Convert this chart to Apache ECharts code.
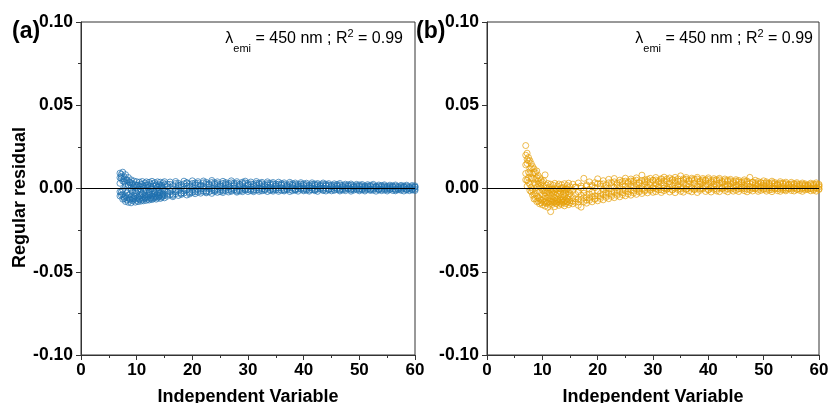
<!DOCTYPE html>
<html>
<head>
<meta charset="utf-8">
<script src="https://cdn.jsdelivr.net/npm/echarts@6/dist/echarts.min.js"></script>
<style>
html,body{margin:0;padding:0;background:#fff;}
#chart{width:830px;height:403px;}
</style>
</head>
<body>
<div id="chart"></div>
<script>
// Independent variable values (shared by both panels)
const xs = [7,7.25,7.5,7.75,8,8.25,8.5,8.75,9,9.25,9.5,9.75,10,10.25,10.5,10.75,11,11.25,11.5,11.75,
12,12.25,12.5,12.75,13,13.25,13.5,13.75,14,14.25,14.5,14.75,15,
15.5,16,16.5,17,17.5,18,18.5,19,19.5,20,20.5,21,21.5,22,22.5,23,23.5,24,24.5,25,25.5,26,26.5,27,27.5,
28,28.5,29,29.5,30,30.5,31,31.5,32,32.5,33,33.5,34,34.5,35,35.5,36,36.5,37,37.5,38,38.5,39,39.5,
40,40.5,41,41.5,42,42.5,43,43.5,44,44.5,45,45.5,46,46.5,47,47.5,48,48.5,49,49.5,50,50.5,51,51.5,
52,52.5,53,53.5,54,54.5,55,55.5,56,56.5,57,57.5,58,58.5,59,59.5,60];

// Panel (a) residuals: five overlapping layers of the scatter band (upper -> lower)
const aHi = [0.0092,0.0060,0.0098,0.0071,0.0083,0.0048,0.0066,0.0039,0.0052,0.0031,0.0045,0.0022,0.0041,0.0018,0.0038,0.0027,0.0042,0.0015,0.0033,0.0040,
0.0021,0.0037,0.0012,0.0043,0.0029,0.0035,0.0016,0.0040,0.0024,0.0038,0.0019,0.0034,0.0041,
0.0026,0.0039,0.0018,0.0042,0.0031,0.0022,0.0044,0.0035,0.0025,0.0046,
0.0033,0.0041,0.0021,0.0045,0.0037,0.0028,0.0048,0.0034,0.0040,0.0024,
0.0043,0.0036,0.0029,0.0046,0.0032,0.0041,0.0023,0.0038,0.0044,0.0030,
0.0039,0.0025,0.0042,0.0033,0.0037,0.0022,0.0040,0.0031,0.0036,0.0027,
0.0038,0.0030,0.0034,0.0021,0.0037,0.0029,0.0033,0.0024,0.0035,0.0028,
0.0032,0.0020,0.0034,0.0027,0.0030,0.0023,0.0033,0.0026,0.0029,0.0019,
0.0028,0.0024,0.0030,0.0018,0.0026,0.0022,0.0027,0.0017,0.0025,0.0021,
0.0024,0.0016,0.0023,0.0019,0.0025,0.0014,0.0021,0.0018,0.0022,0.0013,
0.0020,0.0016,0.0021,0.0012,0.0019,0.0015,0.0020,0.0011,0.0018,0.0016];
const aQ = [0.0065,0.0085,0.0045,0.0058,0.0030,0.0052,0.0016,0.0036,-0.0010,0.0025,0.0008,-0.0015,0.0020,-0.0004,0.0012,-0.0022,0.0024,0.0003,-0.0012,0.0019,
0.0006,-0.0018,0.0027,-0.0001,0.0015,-0.0020,0.0022,0.0008,-0.0006,0.0018,0.0010,-0.0003,0.0023,
0.0012,0.0025,-0.0005,0.0030,0.0020,0.0008,0.0028,0.0034,0.0012,0.0030,
0.0022,0.0030,0.0014,0.0034,0.0025,0.0010,0.0036,0.0026,0.0029,0.0015,
0.0031,0.0028,0.0018,0.0034,0.0024,0.0030,0.0014,0.0029,0.0033,0.0021,
0.0027,0.0016,0.0031,0.0025,0.0028,0.0012,0.0030,0.0021,0.0027,0.0018,
0.0026,0.0022,0.0025,0.0013,0.0027,0.0020,0.0024,0.0016,0.0026,0.0019,
0.0023,0.0012,0.0025,0.0019,0.0022,0.0015,0.0024,0.0018,0.0020,0.0012,
0.0019,0.0016,0.0021,0.0011,0.0018,0.0014,0.0019,0.0010,0.0017,0.0013,
0.0016,0.0010,0.0015,0.0012,0.0017,0.0008,0.0014,0.0011,0.0015,0.0007,
0.0013,0.0010,0.0014,0.0006,0.0012,0.0009,0.0013,0.0005,0.0011,0.0009];
const aMid = [0.0031,0.0072,-0.0008,0.0040,0.0012,-0.0026,0.0021,-0.0035,0.0004,-0.0019,-0.0042,0.0006,-0.0028,-0.0010,-0.0047,-0.0005,-0.0033,-0.0016,-0.0051,-0.0009,
-0.0038,-0.0022,-0.0002,-0.0044,-0.0013,-0.0031,-0.0006,-0.0039,-0.0018,-0.0027,0.0002,-0.0035,-0.0011,
-0.0022,0.0004,-0.0035,-0.0008,0.0012,-0.0027,-0.0003,0.0015,-0.0019,0.0008,
-0.0011,0.0019,-0.0004,0.0010,-0.0015,0.0022,0.0001,-0.0008,0.0017,0.0005,
-0.0006,0.0021,0.0009,-0.0002,0.0016,-0.0010,0.0024,0.0004,-0.0005,0.0018,
0.0008,-0.0007,0.0020,0.0002,0.0013,-0.0004,0.0022,0.0006,-0.0002,0.0015,
0.0003,0.0019,-0.0006,0.0011,0.0005,0.0017,-0.0003,0.0009,0.0014,0.0000,
0.0012,0.0004,0.0016,-0.0005,0.0008,0.0013,0.0001,0.0015,-0.0002,0.0010,
0.0005,0.0013,-0.0004,0.0009,0.0002,0.0012,-0.0003,0.0007,0.0011,-0.0001,
0.0008,0.0002,0.0010,-0.0004,0.0006,0.0009,-0.0002,0.0005,0.0008,0.0000,
0.0004,0.0009,-0.0003,0.0006,0.0002,0.0008,-0.0004,0.0005,0.0001,0.0007];
const aR = [-0.0020,-0.0040,-0.0035,-0.0060,-0.0045,-0.0055,-0.0040,-0.0068,-0.0050,-0.0062,-0.0058,-0.0048,-0.0060,-0.0052,-0.0066,-0.0042,-0.0055,-0.0061,-0.0038,-0.0057,
-0.0049,-0.0042,-0.0060,-0.0035,-0.0054,-0.0044,-0.0050,-0.0028,-0.0045,-0.0038,-0.0047,-0.0032,-0.0040,
-0.0034,-0.0018,-0.0042,-0.0020,-0.0012,-0.0030,-0.0015,-0.0008,-0.0026,-0.0010,
-0.0020,-0.0006,-0.0016,-0.0004,-0.0021,-0.0002,-0.0012,-0.0018,-0.0003,-0.0008,
-0.0015,0.0001,-0.0009,-0.0012,0.0002,-0.0016,-0.0004,-0.0010,0.0000,-0.0007,
-0.0003,-0.0012,0.0004,-0.0008,-0.0002,-0.0011,0.0005,-0.0006,-0.0009,0.0002,
-0.0008,0.0003,-0.0010,-0.0001,-0.0007,0.0004,-0.0009,-0.0003,0.0002,-0.0008,
-0.0002,-0.0009,0.0004,-0.0007,-0.0004,0.0002,-0.0008,0.0001,-0.0006,-0.0002,
-0.0006,0.0002,-0.0009,-0.0001,-0.0005,0.0003,-0.0008,-0.0002,0.0001,-0.0007,
-0.0003,-0.0008,0.0001,-0.0006,-0.0002,0.0000,-0.0009,-0.0004,-0.0001,-0.0007,
-0.0006,-0.0001,-0.0008,-0.0003,-0.0005,0.0000,-0.0009,-0.0002,-0.0006,-0.0004];
const aLo = [-0.0045,-0.0021,-0.0064,-0.0052,-0.0078,-0.0069,-0.0083,-0.0061,-0.0086,-0.0074,-0.0066,-0.0082,-0.0071,-0.0079,-0.0063,-0.0076,-0.0068,-0.0074,-0.0058,-0.0071,
-0.0064,-0.0069,-0.0055,-0.0066,-0.0061,-0.0052,-0.0064,-0.0057,-0.0049,-0.0060,-0.0053,-0.0046,-0.0056,
-0.0046,-0.0038,-0.0049,-0.0031,-0.0042,-0.0036,-0.0027,-0.0039,-0.0033,-0.0024,
-0.0031,-0.0022,-0.0028,-0.0017,-0.0026,-0.0020,-0.0029,-0.0013,-0.0023,-0.0019,
-0.0024,-0.0012,-0.0021,-0.0017,-0.0008,-0.0022,-0.0015,-0.0019,-0.0010,-0.0018,
-0.0013,-0.0019,-0.0009,-0.0017,-0.0014,-0.0006,-0.0018,-0.0012,-0.0016,-0.0008,
-0.0017,-0.0011,-0.0015,-0.0007,-0.0018,-0.0013,-0.0009,-0.0016,-0.0005,-0.0014,
-0.0010,-0.0016,-0.0007,-0.0013,-0.0017,-0.0004,-0.0012,-0.0015,-0.0008,-0.0014,
-0.0011,-0.0006,-0.0015,-0.0009,-0.0013,-0.0003,-0.0016,-0.0010,-0.0007,-0.0014,
-0.0008,-0.0015,-0.0005,-0.0012,-0.0010,-0.0016,-0.0006,-0.0013,-0.0009,-0.0015,
-0.0004,-0.0012,-0.0014,-0.0007,-0.0011,-0.0015,-0.0005,-0.0013,-0.0009,-0.0012];

// Panel (b) residuals: five overlapping layers of the scatter band (upper -> lower)
const bHi = [0.0258,0.0212,0.0186,0.0168,0.0149,0.0132,0.0118,0.0096,0.0105,0.0078,0.0064,0.0052,0.0038,0.0047,0.0082,0.0021,0.0030,0.0008,0.0026,-0.0004,
0.0019,0.0031,-0.0008,0.0015,0.0027,-0.0002,0.0022,0.0006,0.0029,-0.0005,0.0018,0.0032,0.0010,
0.0026,0.0008,0.0033,0.0015,0.0061,0.0022,0.0040,0.0012,0.0035,0.0058,
0.0028,0.0047,0.0019,0.0055,0.0036,0.0060,0.0031,0.0050,0.0042,0.0062,
0.0039,0.0057,0.0046,0.0064,0.0037,0.0080,0.0052,0.0043,0.0061,0.0048,
0.0066,0.0044,0.0059,0.0068,0.0047,0.0063,0.0054,0.0067,0.0045,0.0076,
0.0058,0.0066,0.0049,0.0062,0.0055,0.0067,0.0046,0.0060,0.0052,0.0064,
0.0047,0.0059,0.0053,0.0061,0.0043,0.0057,0.0050,0.0055,0.0041,0.0053,
0.0048,0.0039,0.0052,0.0045,0.0067,0.0037,0.0049,0.0042,0.0035,0.0046,
0.0040,0.0031,0.0044,0.0036,0.0028,0.0041,0.0033,0.0038,0.0026,0.0037,
0.0030,0.0035,0.0024,0.0033,0.0028,0.0022,0.0032,0.0027,0.0034,0.0025];
const bQ = [0.0200,0.0150,0.0165,0.0090,0.0125,0.0060,0.0095,0.0025,0.0065,0.0045,0.0010,0.0030,-0.0010,0.0015,-0.0025,0.0002,-0.0015,-0.0028,-0.0008,-0.0022,
-0.0005,-0.0020,0.0000,-0.0030,-0.0012,-0.0025,0.0003,-0.0018,-0.0008,-0.0030,-0.0004,-0.0020,-0.0010,
-0.0012,0.0010,-0.0020,0.0002,-0.0010,0.0015,-0.0005,0.0020,0.0005,0.0030,
0.0012,0.0028,0.0005,0.0034,0.0018,0.0040,0.0022,0.0036,0.0025,0.0044,
0.0030,0.0045,0.0036,0.0050,0.0032,0.0047,0.0040,0.0055,0.0038,0.0049,
0.0051,0.0039,0.0054,0.0045,0.0057,0.0041,0.0052,0.0048,0.0058,0.0043,
0.0050,0.0056,0.0044,0.0053,0.0047,0.0057,0.0040,0.0051,0.0046,0.0054,
0.0038,0.0049,0.0043,0.0052,0.0036,0.0047,0.0041,0.0046,0.0034,0.0044,
0.0039,0.0031,0.0042,0.0036,0.0029,0.0038,0.0033,0.0027,0.0035,0.0030,
0.0032,0.0025,0.0034,0.0028,0.0021,0.0031,0.0026,0.0029,0.0020,0.0027,
0.0023,0.0027,0.0018,0.0025,0.0021,0.0016,0.0024,0.0019,0.0025,0.0018];
const bMid = [0.0142,0.0175,0.0098,0.0121,0.0065,0.0088,0.0032,0.0054,0.0008,0.0026,-0.0018,0.0004,-0.0035,-0.0012,-0.0046,-0.0027,-0.0055,-0.0038,-0.0062,-0.0044,
-0.0029,-0.0057,-0.0040,-0.0064,-0.0033,-0.0051,-0.0068,-0.0037,-0.0049,-0.0025,-0.0060,-0.0042,-0.0031,
-0.0054,-0.0036,-0.0062,-0.0041,-0.0028,-0.0050,-0.0033,-0.0021,-0.0044,-0.0017,
-0.0030,-0.0008,-0.0024,-0.0002,-0.0019,0.0006,-0.0012,0.0011,-0.0005,0.0015,
-0.0001,0.0019,0.0007,0.0024,0.0002,0.0016,0.0029,0.0009,0.0022,0.0004,
0.0027,0.0012,0.0032,0.0018,0.0006,0.0030,0.0015,0.0035,0.0021,0.0010,
0.0033,0.0019,0.0027,0.0008,0.0031,0.0014,0.0025,0.0036,0.0017,0.0029,
0.0011,0.0026,0.0018,0.0032,0.0007,0.0023,0.0015,0.0028,0.0010,0.0021,
0.0024,0.0008,0.0019,0.0027,0.0013,0.0005,0.0022,0.0016,0.0009,0.0020,
0.0012,0.0018,0.0004,0.0015,0.0021,0.0007,0.0013,0.0002,0.0017,0.0010,
0.0006,0.0015,0.0011,0.0003,0.0014,0.0008,0.0001,0.0012,0.0005,0.0010];
const bR = [0.0090,0.0050,0.0065,0.0025,-0.0020,-0.0010,-0.0035,-0.0060,-0.0045,-0.0075,-0.0060,-0.0085,-0.0070,-0.0062,-0.0080,-0.0072,-0.0085,-0.0095,-0.0075,-0.0082,
-0.0070,-0.0078,-0.0088,-0.0068,-0.0080,-0.0072,-0.0083,-0.0065,-0.0076,-0.0070,-0.0081,-0.0066,-0.0074,
-0.0075,-0.0062,-0.0080,-0.0066,-0.0055,-0.0070,-0.0058,-0.0048,-0.0060,-0.0045,
-0.0048,-0.0035,-0.0042,-0.0030,-0.0036,-0.0022,-0.0030,-0.0018,-0.0026,-0.0012,
-0.0020,-0.0010,-0.0016,-0.0005,-0.0012,-0.0002,-0.0009,0.0001,-0.0006,0.0004,
-0.0002,0.0006,-0.0008,0.0003,-0.0004,0.0008,-0.0006,0.0002,0.0009,-0.0003,
0.0005,-0.0006,0.0008,0.0001,-0.0004,0.0007,-0.0002,0.0004,0.0010,-0.0005,
0.0003,0.0008,-0.0004,0.0005,0.0001,0.0007,-0.0003,0.0004,0.0000,0.0006,
-0.0002,0.0005,0.0001,-0.0004,0.0006,-0.0001,0.0003,-0.0005,0.0004,0.0000,
-0.0003,0.0004,-0.0006,0.0002,0.0000,-0.0004,0.0003,-0.0007,0.0001,-0.0002,
0.0002,-0.0005,0.0000,-0.0003,0.0003,-0.0006,0.0001,-0.0004,0.0002,-0.0002];
const bLo = [0.0052,0.0014,0.0036,-0.0012,0.0005,-0.0041,-0.0063,-0.0028,-0.0079,-0.0055,-0.0092,-0.0071,-0.0098,-0.0084,-0.0106,-0.0090,-0.0113,-0.0078,-0.0139,-0.0096,
-0.0083,-0.0109,-0.0091,-0.0077,-0.0101,-0.0088,-0.0095,-0.0082,-0.0104,-0.0090,-0.0079,-0.0097,-0.0086,
-0.0092,-0.0083,-0.0101,-0.0112,-0.0078,-0.0088,-0.0071,-0.0080,-0.0065,-0.0074,
-0.0060,-0.0068,-0.0053,-0.0061,-0.0047,-0.0055,-0.0041,-0.0050,-0.0037,-0.0044,
-0.0032,-0.0040,-0.0027,-0.0035,-0.0021,-0.0030,-0.0016,-0.0026,-0.0012,-0.0023,
-0.0019,-0.0008,-0.0024,-0.0013,-0.0004,-0.0021,-0.0010,-0.0025,-0.0006,-0.0017,
-0.0022,-0.0003,-0.0014,-0.0020,-0.0007,-0.0024,-0.0011,-0.0002,-0.0018,-0.0009,
-0.0021,-0.0005,-0.0015,-0.0019,-0.0001,-0.0012,-0.0020,-0.0006,-0.0016,-0.0010,
-0.0018,-0.0004,-0.0013,-0.0020,-0.0008,-0.0015,-0.0002,-0.0017,-0.0011,-0.0006,
-0.0016,-0.0009,-0.0019,-0.0003,-0.0013,-0.0017,-0.0007,-0.0014,-0.0001,-0.0012,
-0.0015,-0.0005,-0.0011,-0.0017,-0.0008,-0.0002,-0.0014,-0.0010,-0.0016,-0.0006];

const xTicks = {min: 0, max: 60, interval: 10};
const yTicks = {min: -0.1, max: 0.1, interval: 0.05};
const panelLabels = ['(a)', '(b)'];
const xName = 'Independent Variable';
const yName = 'Regular residual';
const colorA = '#1f70ae';
const colorB = '#e6a00a';

function pairs(ys) { return xs.map((x, i) => [x, ys[i]]); }

const FONT = 'Liberation Sans';
const grids = [
  {left: 81, top: 22, width: 334, height: 333},
  {left: 487, top: 22, width: 332, height: 333}
];

function makeX(i) {
  return {
    type: 'value', gridIndex: i, min: xTicks.min, max: xTicks.max, interval: xTicks.interval,
    name: xName, nameLocation: 'middle', nameGap: 33,
    nameTextStyle: {fontFamily: FONT, fontWeight: 'bold', fontSize: 18, color: '#000'},
    axisLine: {show: true, onZero: false, lineStyle: {color: '#333', width: 1}},
    axisTick: {show: true, length: 5, lineStyle: {color: '#333'}},
    minorTick: {show: true, splitNumber: 2, length: 3, lineStyle: {color: '#333'}},
    splitLine: {show: false},
    axisLabel: {fontFamily: FONT, fontWeight: 'bold', fontSize: 17, color: '#000', margin: 7}
  };
}
function makeY(i, withName) {
  return {
    type: 'value', gridIndex: i, min: yTicks.min, max: yTicks.max, interval: yTicks.interval,
    name: withName ? yName : '', nameLocation: 'middle', nameGap: 52, nameRotate: 90,
    nameTextStyle: {fontFamily: FONT, fontWeight: 'bold', fontSize: 18, color: '#000', padding: [0, 18, 0, 0]},
    axisLine: {show: true, onZero: false, lineStyle: {color: '#333', width: 1}},
    axisTick: {show: true, length: 5, lineStyle: {color: '#333'}},
    minorTick: {show: true, splitNumber: 2, length: 3, lineStyle: {color: '#333'}},
    splitLine: {show: false},
    axisLabel: {fontFamily: FONT, fontWeight: 'bold', fontSize: 17.5, color: '#000', margin: 8,
      formatter: v => v.toFixed(2)}
  };
}

function scatter(i, ys, color) {
  return {
    type: 'scatter', xAxisIndex: i, yAxisIndex: i, data: pairs(ys),
    symbol: 'circle', symbolSize: 6, silent: true,
    itemStyle: {color: 'rgba(0,0,0,0)', borderColor: color, borderWidth: 0.9}
  };
}
function zeroLine(i) {
  return {
    type: 'scatter', xAxisIndex: i, yAxisIndex: i, data: [], silent: true,
    markLine: {silent: true, symbol: 'none', label: {show: false},
      lineStyle: {color: '#000', width: 1, type: 'solid'}, data: [{yAxis: 0}]}
  };
}

const annRich = {
  n: {fontFamily: FONT, fontWeight: 'normal', fontSize: 16, color: '#000', verticalAlign: 'middle', lineHeight: 22},
  s: {fontFamily: FONT, fontWeight: 'normal', fontSize: 11, color: '#000', verticalAlign: 'bottom', lineHeight: 22, padding: [0, 0, -4, 0]},
  p: {fontFamily: FONT, fontWeight: 'normal', fontSize: 11, color: '#000', verticalAlign: 'top', lineHeight: 22}
};
const annText = '{n|λ}{s|emi}{n| = 450 nm ; R}{p|2}{n| = 0.99}';

const option = {
  backgroundColor: '#fff',
  animation: false,
  grid: grids.map(g => Object.assign({show: true, borderColor: '#333', borderWidth: 1,
    backgroundColor: 'rgba(0,0,0,0)', containLabel: false, outerBoundsMode: 'none'}, g)),
  xAxis: [makeX(0), makeX(1)],
  yAxis: [makeY(0, true), makeY(1, false)],
  title: [
    {text: panelLabels[0], left: 12, top: 20, padding: 0, textStyle: {fontFamily: FONT, fontWeight: 'bold', fontSize: 23, color: '#000'}},
    {text: panelLabels[1], left: 416, top: 20, padding: 0, textStyle: {fontFamily: FONT, fontWeight: 'bold', fontSize: 23, color: '#000'}},
    {text: annText, right: 427, top: 28, padding: 0, textStyle: {fontWeight: 'normal', rich: annRich}},
    {text: annText, right: 17, top: 28, padding: 0, textStyle: {fontWeight: 'normal', rich: annRich}}
  ],
  series: [
    scatter(0, aHi, colorA), scatter(0, aQ, colorA), scatter(0, aMid, colorA), scatter(0, aR, colorA), scatter(0, aLo, colorA),
    scatter(1, bHi, colorB), scatter(1, bQ, colorB), scatter(1, bMid, colorB), scatter(1, bR, colorB), scatter(1, bLo, colorB),
    zeroLine(0), zeroLine(1)
  ]
};

const chart = echarts.init(document.getElementById('chart'), null, {renderer: 'canvas'});
chart.setOption(option);
</script>
</body>
</html>
